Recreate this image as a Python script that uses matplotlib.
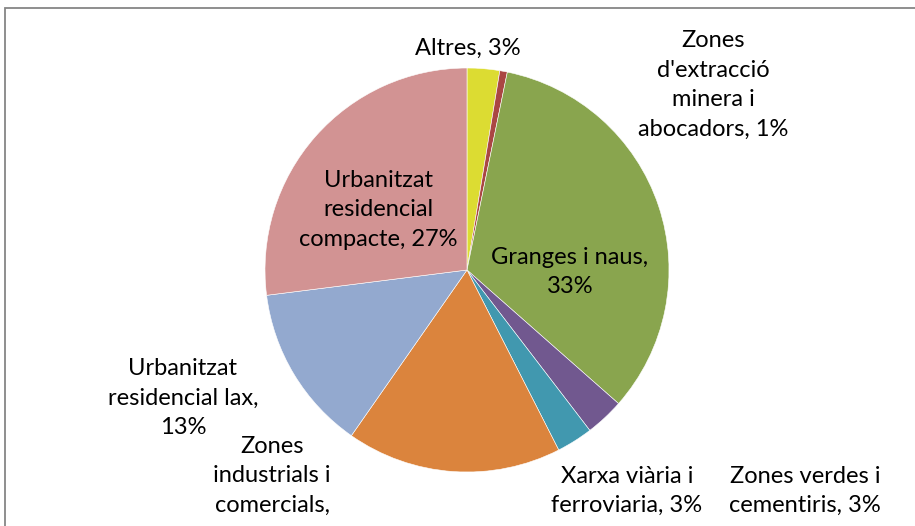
import matplotlib.pyplot as plt
from matplotlib.patches import Rectangle

# categories, clockwise from 12 o'clock
labels = ["Altres, 3%",
          "Zones\nd'extracció\nminera i\nabocadors, 1%",
          "Granges i naus,\n33%",
          "Zones verdes i\ncementiris, 3%",
          "Xarxa viària i\nferroviaria, 3%",
          "Zones\nindustrials i\ncomercials,",   # "17%" falls below the crop
          "Urbanitzat\nresidencial lax,\n13%",
          "Urbanitzat\nresidencial\ncompacte, 27%"]
values = [2.6, 0.6, 33.3, 3.1, 2.9, 17.2, 13.3, 27.0]
colors = ['#DCDC32', '#AA4643', '#89A54E', '#71588F', '#4198AF',
          '#DB843D', '#93A9CF', '#D29393']
# label block centres in pixels from top-left
label_pos = [(468, 48), (713, 85), (570, 272), (805, 491), (627, 491),
             (272, 476), (183, 398), (378, 210)]

W, H = 915, 526
fig = plt.figure(figsize=(W / 100, H / 100), dpi=100)
ax = fig.add_axes([0, 0, 1, 1])

ax.pie(values, colors=colors, startangle=90, counterclock=False,
       center=(467, H - 270), radius=202, frame=True,
       wedgeprops=dict(edgecolor='white', linewidth=0.4))
ax.set_xlim(0, W)
ax.set_ylim(0, H)
ax.set_aspect('equal')
ax.axis('off')

# chart frame (cropped at right and bottom)
ax.add_patch(Rectangle((4.5, -10), W + 20, H - 8 + 10, fill=False,
                       edgecolor='#868686', linewidth=1.3))

font = ['Lato', 'DejaVu Sans']
for lab, (x, y) in zip(labels, label_pos):
    ax.text(x, H - y, lab, ha='center', va='center', fontsize=17,
            family=font, linespacing=1.5, color='black',
            multialignment='center')

fig.savefig('out.png', dpi=100)
